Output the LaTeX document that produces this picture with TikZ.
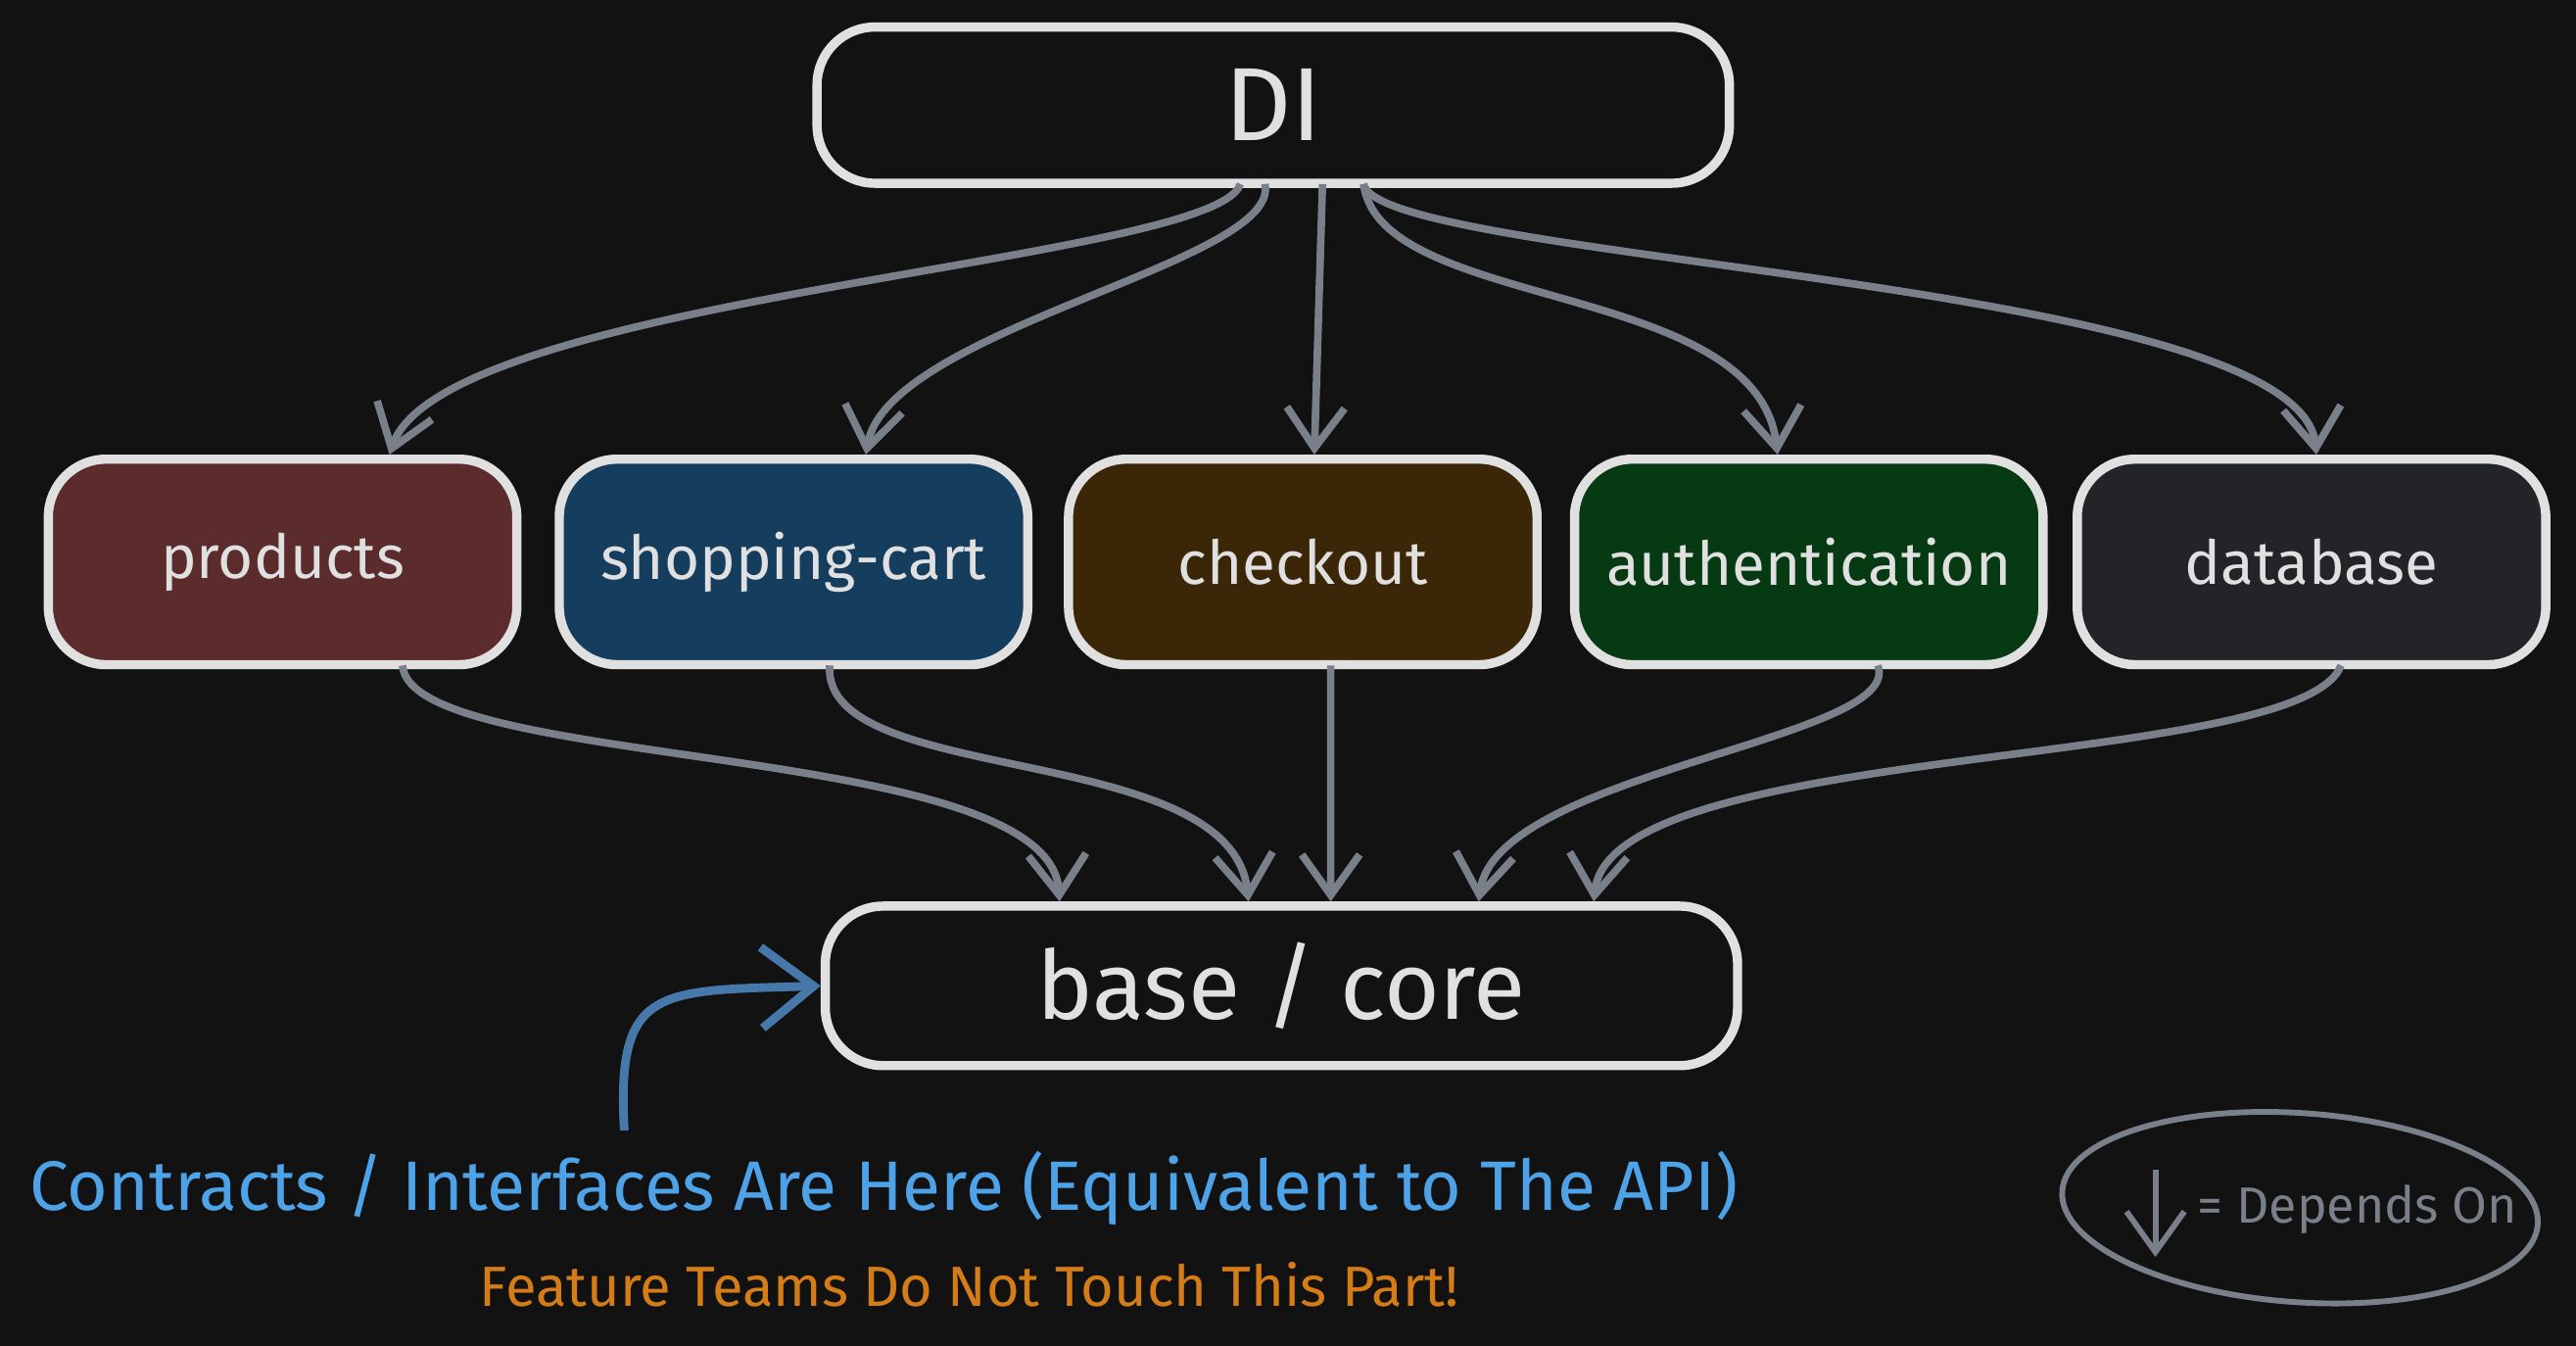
\documentclass[tikz,border=0pt]{standalone}
\usepackage{fontspec}
\setmainfont{Fira Sans}
\usetikzlibrary{arrows.meta,shapes.geometric}
\definecolor{bg}{HTML}{121212}
\definecolor{edge}{HTML}{E0E0E0}
\definecolor{arr}{HTML}{7A808A}
\begin{document}
\begin{tikzpicture}[x=0.01cm,y=-0.01cm,
  box/.style={draw=edge,line width=1.6pt,rounded corners=10pt,inner sep=0pt,text=edge},
  dep/.style={draw=arr,line width=1.3pt,-{Straight Barb[length=7pt,width=10pt]}}]
\fill[bg] (0,0) rectangle (1568,819);
\useasboundingbox (0,0) rectangle (1568,819);
\node[box,minimum width=5.55cm,minimum height=0.95cm,font=\fontsize{18}{20}\selectfont] (di) at (775,64) {DI};
\node[box,minimum width=5.55cm,minimum height=0.97cm,font=\fontsize{16.5}{19}\selectfont] (core) at (780,600) {base / core};
\foreach \n/\t/\c/\x in {p/products/5C2B2B/172, s/shopping-cart/153E5E/483, c/checkout/3B2608/793, a/authentication/053A12/1101, d/database/232427/1407}{
  \definecolor{f\n}{HTML}{\c}
  \node[box,fill=f\n,minimum width=2.85cm,minimum height=1.25cm,font=\fontsize{10.5}{13}\selectfont] (\n) at (\x,342) {\t};
}
\coordinate (d1) at (755,112); \coordinate (d2) at (770,112); \coordinate (d3) at (805,112);
\coordinate (d4) at (830,112);
\draw[dep] (d1) .. controls (740,160) and (270,180) .. ([xshift=0.65cm]p.north);
\draw[dep] (d2) .. controls (780,160) and (540,200) .. ([xshift=0.44cm]s.north);
\draw[dep] (d3) -- ([xshift=0.07cm]c.north);
\draw[dep] (d4) .. controls (840,190) and (1070,170) .. ([xshift=-0.19cm]a.north);
\draw[dep] (d4) .. controls (840,160) and (1400,170) .. ([xshift=0.03cm]d.north);
\coordinate (u1) at (245,405); \coordinate (u2) at (505,405); \coordinate (u3) at (810,405);
\coordinate (u4) at (1143,405); \coordinate (u5) at (1425,405);
\draw[dep] (u1) .. controls (250,470) and (640,450) .. ([xshift=-1.35cm]core.north);
\draw[dep] (u2) .. controls (500,480) and (750,450) .. ([xshift=-0.2cm]core.north);
\draw[dep] (u3) -- ([xshift=0.3cm]core.north);
\draw[dep] (u4) .. controls (1160,450) and (910,470) .. ([xshift=1.2cm]core.north);
\draw[dep] (u5) .. controls (1400,470) and (980,450) .. ([xshift=1.9cm]core.north);
\coordinate (b0) at (380,688);
\draw[draw={rgb,255:red,70;green,120;blue,170},line width=1.5pt,-{Straight Barb[length=9pt,width=14pt]}] (b0) .. controls (375,600) and (400,603) .. (core.west);
\node[text={rgb,255:red,78;green,163;blue,232},font=\fontsize{12.1}{14}\selectfont] (t1) at (538,723) {Contracts / Interfaces Are Here (Equivalent to The API)};
\node[text={rgb,255:red,212;green,124;blue,24},font=\fontsize{9.8}{12}\selectfont] (t2) at (590,782) {Feature Teams Do Not Touch This Part!};
\node[draw=arr,line width=1pt,ellipse,minimum width=2.9cm,minimum height=1.15cm,rotate=-4] (leg) at (1400,735) {};
\coordinate (l1) at (1312,712); \coordinate (l2) at (1312,765);
\draw[dep,line width=1pt] (l1) -- (l2);
\node[text=arr,font=\fontsize{8.8}{11}\selectfont,anchor=west,inner sep=0pt] (lt) at (1337,736) {= Depends On};
\end{tikzpicture}
\end{document}
